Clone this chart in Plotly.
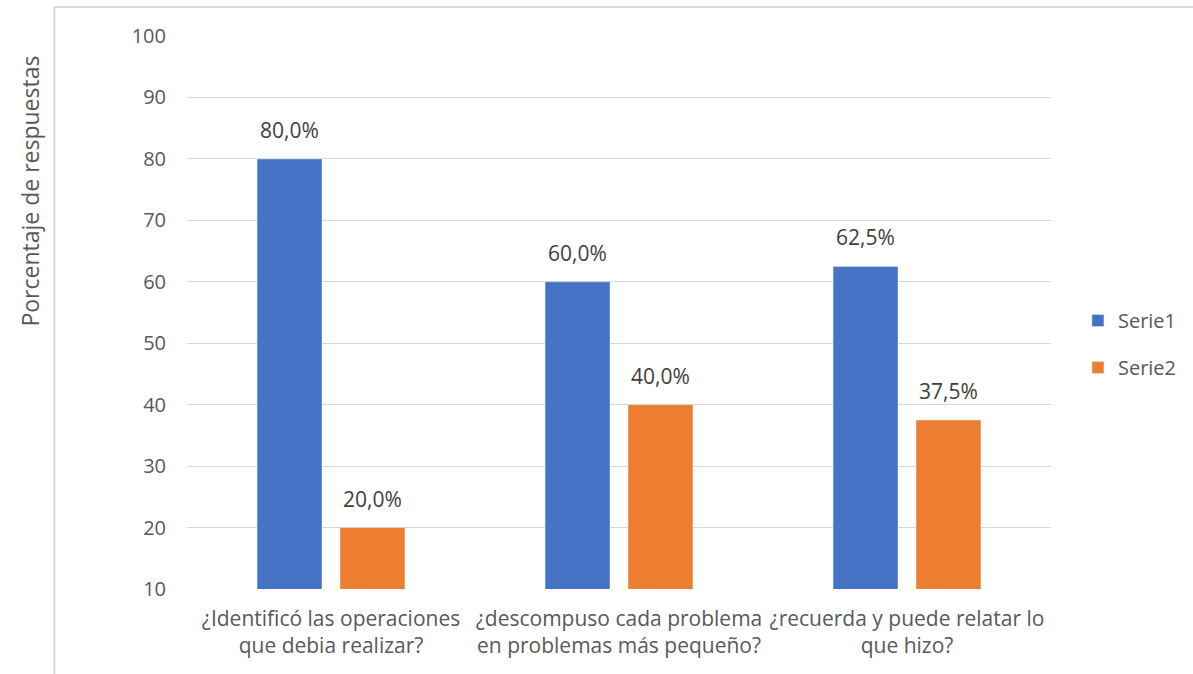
import plotly.graph_objects as go

# Survey results: share of answers per question
categories = [
    "¿Identificó las operaciones<br>que debia realizar?",
    "¿descompuso cada problema<br>en problemas más pequeño?",
    "¿recuerda y puede relatar lo<br>que hizo?",
]
serie1 = [80.0, 60.0, 62.5]
serie2 = [20.0, 40.0, 37.5]
series_names = ["Serie1", "Serie2"]
series_colors = ["#4472C4", "#ED7D31"]
y_ticks = [10, 20, 30, 40, 50, 60, 70, 80, 90, 100]

FONT = "Open Sans"
GREY = "#595959"
SLOT_SHIFT = 41.5  # px offset of each bar centre from its category centre


def pct_label(v):
    return f"{v:.1f}".replace(".", ",") + "%"


x_pos = list(range(len(categories)))

fig = go.Figure()
annotations = []
for i, (name, vals, color) in enumerate(zip(series_names, [serie1, serie2], series_colors)):
    fig.add_trace(go.Bar(
        x=x_pos,
        y=vals,
        base=0,
        name=name,
        marker_color=color,
        legendgroup=name,
    ))
    shift = -SLOT_SHIFT if i == 0 else SLOT_SHIFT
    for xp, v in zip(x_pos, vals):
        annotations.append(dict(
            x=xp, y=v, xref="x", yref="y",
            text=pct_label(v),
            showarrow=False,
            xanchor="center", yanchor="bottom",
            xshift=shift, yshift=13,
            font=dict(family=FONT, size=21, color="#404040"),
        ))

annotations.append(dict(
    text="Porcentaje de respuestas",
    xref="paper", yref="paper",
    x=-0.182, y=0.72,
    xanchor="center", yanchor="middle",
    textangle=-90,
    showarrow=False,
    font=dict(family=FONT, size=23, color=GREY),
))

fig.update_layout(
    width=1193,
    height=674,
    margin=dict(l=187, r=141, t=36, b=85),
    paper_bgcolor="white",
    plot_bgcolor="white",
    barmode="group",
    bargap=0.424,
    bargroupgap=0.217,
    font=dict(family=FONT, color=GREY),
    showlegend=True,
    legend=dict(
        x=1.03, xanchor="left",
        y=0.443, yanchor="middle",
        font=dict(family=FONT, size=20, color=GREY),
        tracegroupgap=18,
        itemwidth=30,
    ),
    xaxis=dict(
        range=[-0.5, 2.5],
        tickmode="array",
        tickvals=x_pos,
        ticktext=categories,
        tickfont=dict(family=FONT, size=21, color=GREY),
        showgrid=False,
        showline=False,
        ticks="",
        ticklabelstandoff=15,
    ),
    yaxis=dict(
        range=[10, 100],
        tickmode="array",
        tickvals=y_ticks,
        tickfont=dict(family=FONT, size=20, color=GREY),
        showgrid=True,
        gridcolor="#D9D9D9",
        gridwidth=1.3,
        zeroline=False,
        showline=False,
        ticks="",
        ticklabelstandoff=20,
    ),
    annotations=annotations,
    shapes=[
        # chart-area frame (top and left edges)
        dict(type="line", xref="paper", yref="paper",
             x0=-0.1535, x1=1.2, y0=1.0524, y1=1.0524,
             line=dict(color="#D9D9D9", width=2)),
        dict(type="line", xref="paper", yref="paper",
             x0=-0.1535, x1=-0.1535, y0=-0.2, y1=1.0524,
             line=dict(color="#D9D9D9", width=2)),
    ],
)

fig.write_html("out.html")
